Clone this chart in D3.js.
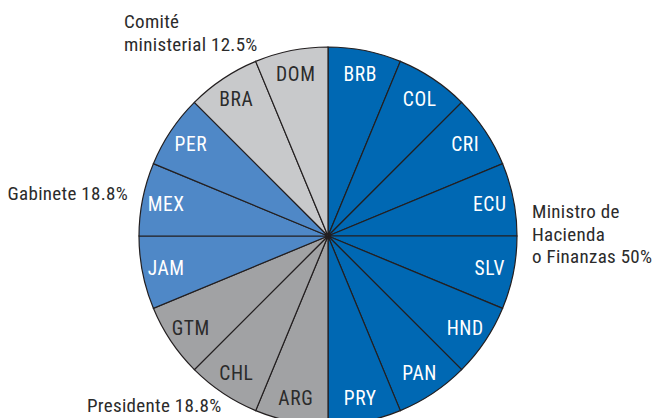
<!DOCTYPE html>
<html>
<head>
<meta charset="utf-8">
<script src="https://cdn.jsdelivr.net/npm/d3@7"></script>
<style>
  body { margin: 0; background: #fff; }
  svg text { font-family: "Liberation Sans Narrow", "Roboto Condensed", "Liberation Sans", sans-serif; letter-spacing: 0.3px; }
</style>
</head>
<body>
<svg id="chart" width="652" height="418"></svg>
<script>
// paises en orden horario desde arriba
var countries = ['BRB', 'COL', 'CRI', 'ECU', 'SLV', 'HND', 'PAN', 'PRY',
                 'ARG', 'CHL', 'GTM', 'JAM', 'MEX', 'PER', 'BRA', 'DOM'];
// grupo de cada pais
var groupOf = ['min', 'min', 'min', 'min', 'min', 'min', 'min', 'min',
               'pres', 'pres', 'pres', 'gab', 'gab', 'gab', 'com', 'com'];
// cada pais pesa lo mismo
var shares = [1, 1, 1, 1, 1, 1, 1, 1, 1, 1, 1, 1, 1, 1, 1, 1];

var groups = ['min', 'pres', 'gab', 'com'];
var groupColors = ['#0068b3', '#a1a2a4', '#4f88c7', '#c8c9cb'];
var textColors = ['#ffffff', '#2b2b2b', '#ffffff', '#2b2b2b'];

var data = countries.map(function(c, i) {
    return { name: c, group: groupOf[i], value: shares[i] };
});

var svg = d3.select('#chart');
var cx = 328, cy = 236, R = 189;

var color = d3.scaleOrdinal().domain(groups).range(groupColors);
var txtColor = d3.scaleOrdinal().domain(groups).range(textColors);

var pie = d3.pie().sort(null).value(function(d) { return d.value; });
var arc = d3.arc().innerRadius(0).outerRadius(R);
var labelArc = d3.arc().innerRadius(165).outerRadius(165);

var g = svg.append('g').attr('transform', 'translate(' + cx + ',' + cy + ')');

var slices = g.selectAll('g.slice')
    .data(pie(data))
    .enter().append('g')
        .attr('class', 'slice');

slices.append('path')
    .attr('d', arc)
    .attr('fill', function(d) { return color(d.data.group); })
    .attr('stroke', '#231f20')
    .attr('stroke-width', 1.2);

slices.append('text')
    .attr('transform', function(d) { return 'translate(' + labelArc.centroid(d) + ')'; })
    .attr('text-anchor', 'middle')
    .attr('dy', '0.36em')
    .attr('font-size', 19.5)
    .style('letter-spacing', '0.6px')
    .attr('fill', function(d) { return txtColor(d.data.group); })
    .text(function(d) { return d.data.name; });

/*etiquetas de los grupos*/
var groupLabels = [
    { lines: ['Comité', 'ministerial 12.5%'], x: 124, y: 28, anchor: 'start' },
    { lines: ['Gabinete 18.8%'], x: 128, y: 200, anchor: 'end' },
    { lines: ['Ministro de', 'Hacienda', 'o Finanzas 50%'], x: 532, y: 218, anchor: 'start' },
    { lines: ['Presidente 18.8%'], x: 87, y: 412, anchor: 'start' }
];

groupLabels.forEach(function(l) {
    var t = svg.append('text')
        .attr('x', l.x)
        .attr('y', l.y)
        .attr('text-anchor', l.anchor)
        .attr('font-size', 19)
        .attr('fill', '#2b2b2b');
    l.lines.forEach(function(line, i) {
        t.append('tspan')
            .attr('x', l.x)
            .attr('dy', i == 0 ? 0 : 22.5)
            .text(line);
    });
});
</script>
</body>
</html>
